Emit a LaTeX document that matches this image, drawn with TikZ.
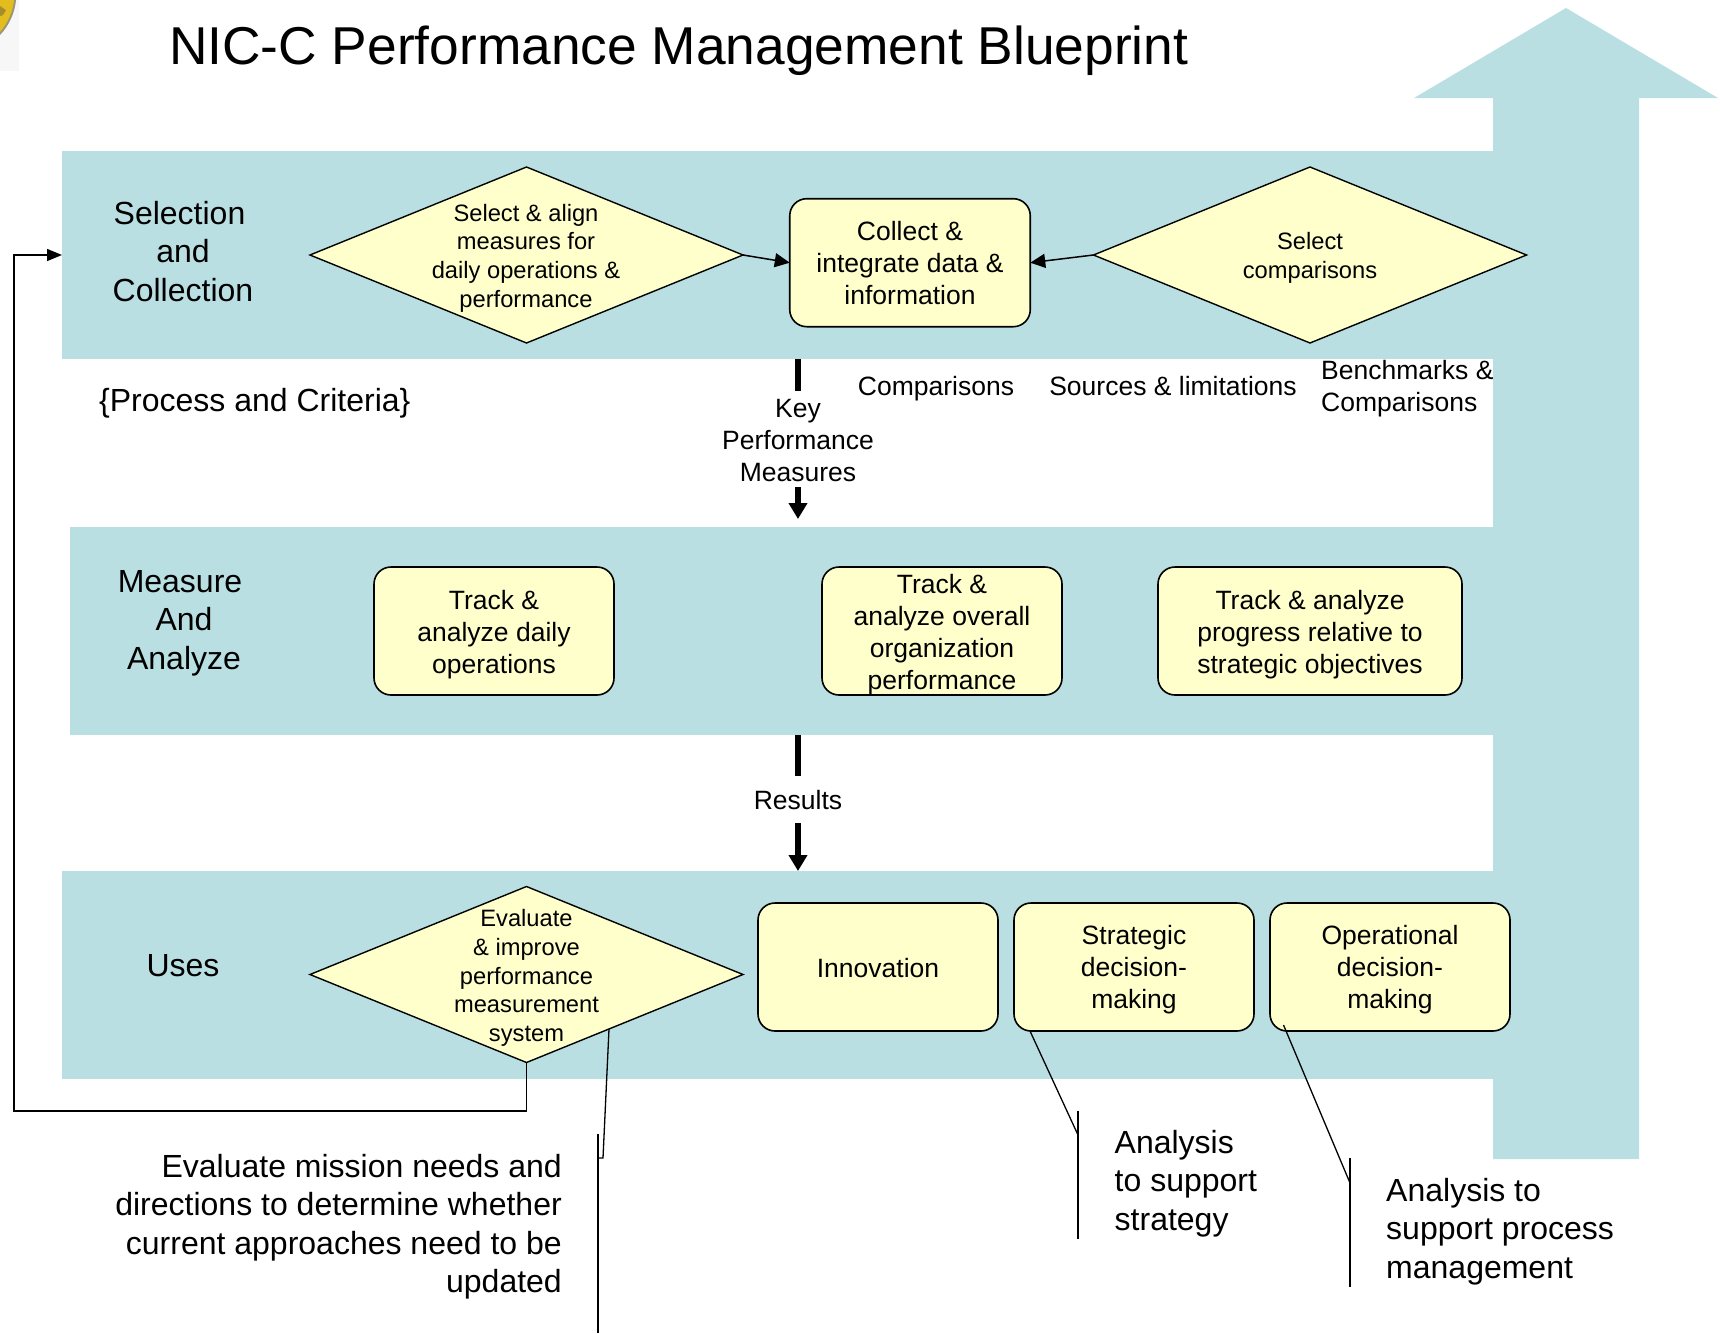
\documentclass[tikz,border=0pt]{standalone}
\usepackage{fontspec}
\setmainfont{Liberation Sans}
\usetikzlibrary{shapes.geometric,arrows.meta}
\definecolor{bandc}{HTML}{B9DFE2}
\definecolor{boxc}{HTML}{FFFFCC}
\definecolor{logoy}{HTML}{E3BC1E}
\definecolor{logog}{HTML}{9A9478}
\definecolor{logod}{HTML}{A68C2E}
\tikzset{
  x=1pt,y=-1pt,
  band/.style={fill=bandc,draw=none,anchor=north west,inner sep=0pt,outer sep=0pt},
  rbox/.style={draw=black,line width=1.6pt,fill=boxc,rounded corners=17pt,inner sep=0pt,outer sep=0pt},
  rtext/.style={inner sep=0pt,align=center,font=\fontsize{26.5}{32}\selectfont},
  diam/.style={draw=black,line width=1.4pt,fill=boxc,diamond,inner sep=0pt,outer sep=0pt,minimum width=433pt,minimum height=176pt},
  dtext/.style={inner sep=0pt,align=center,font=\fontsize{23.7}{28.6}\selectfont},
  lab/.style={inner sep=0pt,align=center,font=\fontsize{26.5}{32}\selectfont},
  head/.style={inner sep=0pt,align=center,font=\fontsize{32}{38.5}\selectfont},
  big/.style={inner sep=0pt,font=\fontsize{32}{38.5}\selectfont},
  thin/.style={draw=black,line width=1.3pt},
  conn/.style={draw=black,line width=1.5pt,-{Triangle[length=15pt,width=14pt]}},
  thick/.style={draw=black,line width=6pt},
  thicka/.style={draw=black,line width=6pt,-{Triangle[length=16pt,width=18pt]}},
}
\begin{document}
\begin{tikzpicture}
\useasboundingbox (0,0) rectangle (1720,1333);
% logo fragment
\fill[black!3] (0,0) rectangle (19,71);
\fill[logog] (16,0) .. controls (15,12) and (9,26) .. (0,35) -- (0,0) -- cycle;
\fill[logoy] (14,0) .. controls (13,11) and (8,23) .. (0,32) -- (0,0) -- cycle;
\fill[logod] (0,6) -- (6,10) -- (3,15) -- (0,16) -- cycle;
% bands
\node[band,minimum width=1431pt,minimum height=208.5pt] (b1) at (62,150.5) {};
\node[band,minimum width=1423pt,minimum height=208pt] (b2) at (70,527) {};
\node[band,minimum width=1431pt,minimum height=208pt] (b3) at (62,871) {};
% large up arrow
\fill[bandc] (1493,1159) -- (1639,1159) -- (1639,98) -- (1718,98) -- (1566,8) -- (1414,98) -- (1493,98) -- cycle;
% title
\node[inner sep=0pt,anchor=west,font=\fontsize{53.3}{60}\selectfont] (title) at (169,50.5) {NIC-C Performance Management Blueprint};
% row labels
\node[head] (l1) at (183,251.5) {Selection\hspace*{7pt}\\and\hspace*{12pt}\\Collection};
\node[head] (l2) at (184,623) {Measure\hspace*{8pt}\\And\hspace*{8pt}\\Analyze};
\node[head] (l3) at (183,966) {Uses};
\node[big,anchor=west] (pc) at (99,403.5) {\{Process and Criteria\}};
% top row
\node[diam] (d1) at (526.5,255) {};
\node[dtext] (d1t) at (526,258) {Select \& align\\measures for\\daily operations \&\\performance};
\node[diam] (d2) at (1310,255) {};
\node[dtext] (d2t) at (1310,258) {Select\\comparisons};
\node[rbox,minimum width=240.5pt,minimum height=128pt] (collect) at (910,262.7) {};
\node[rtext] (collectt) at (910,263.3) {Collect \&\\integrate data \&\\information};
\draw[conn] (d1.east) -- (collect.west);
\draw[conn] (d2.west) -- (collect.east);
% labels between
\node[lab] (c1) at (936,388.3) {Comparisons};
\node[lab] (c2) at (1173,386) {Sources \& limitations};
\node[lab,align=left,anchor=west] (c3) at (1321,389) {Benchmarks \&\\Comparisons};
\node[lab] (kpm) at (798,441) {Key\\Performance\\Measures};
\coordinate (k1) at (798,390.5);
\coordinate (k2) at (798,487);
\coordinate (k3) at (798,519);
\coordinate (k0) at (798,359);
\draw[thick] (k0) -- (k1);
\draw[thicka] (k2) -- (k3);
% middle row
\node[rbox,minimum width=240pt,minimum height=128pt] (t1) at (494,631) {};
\node[rtext] (t1t) at (494,635) {Track \&\\analyze daily\\operations};
\node[rbox,minimum width=240pt,minimum height=128pt] (t2) at (942,631) {};
\node[rtext] (t2t) at (942,635) {Track \&\\analyze overall\\organization\\performance};
\node[rbox,minimum width=304pt,minimum height=128pt] (t3) at (1310,631) {};
\node[rtext] (t3t) at (1310,635) {Track \& analyze\\progress relative to\\strategic objectives};
% results
\node[lab] (res) at (798,800) {Results};
\coordinate (r0) at (798,735);
\coordinate (r1) at (798,776);
\coordinate (r2) at (798,823);
\coordinate (r3) at (798,871);
\draw[thick] (r0) -- (r1);
\draw[thicka] (r2) -- (r3);
% bottom row
\node[diam] (d3) at (526.5,974.5) {};
\node[dtext] (d3t) at (526.5,978) {Evaluate\\\& improve\\performance\\measurement\\system};
\node[rbox,minimum width=240pt,minimum height=128pt] (i1) at (878,967) {};
\node[rtext] (i1t) at (878,968) {Innovation};
\node[rbox,minimum width=240pt,minimum height=128pt] (i2) at (1134,967) {};
\node[rtext] (i2t) at (1134,969.5) {Strategic\\decision-\\making};
\node[rbox,minimum width=240pt,minimum height=128pt] (i3) at (1390,967) {};
\node[rtext] (i3t) at (1390,969.5) {Operational\\decision-\\making};
% feedback
\coordinate (f1) at (526.5,1111);
\coordinate (f2) at (14,1111);
\coordinate (f3) at (14,255);
\coordinate (f4) at (62,255);
\draw[draw=black,line width=1.5pt,-{Triangle[length=15pt,width=12pt]}] (d3.south) -- (f1) -- (f2) -- (f3) -- (f4);
% callouts
\coordinate (e0) at (609,1029);
\coordinate (e1) at (603,1158);
\coordinate (e2) at (598,1158);
\coordinate (e3) at (598,1134);
\coordinate (e4) at (598,1333);
\draw[thin] (e0) -- (e1) -- (e2);
\draw[thin] (e3) -- (e4);
\node[big,align=right,anchor=east] (n1) at (562,1226.7) {Evaluate mission needs and\\directions to determine whether\\current approaches need to be\\updated};
\coordinate (s0) at (1030,1031);
\coordinate (s1) at (1078,1135);
\coordinate (s2) at (1078,1110.7);
\coordinate (s3) at (1078,1239);
\draw[thin] (s0) -- (s1);
\draw[thin] (s2) -- (s3);
\node[big,align=left,anchor=west] (n2) at (1114.5,1183.5) {Analysis\\to support\\strategy};
\coordinate (o0) at (1283.5,1025);
\coordinate (o1) at (1350,1183);
\coordinate (o2) at (1350,1158);
\coordinate (o3) at (1350,1287);
\draw[thin] (o0) -- (o1);
\draw[thin] (o2) -- (o3);
\node[big,align=left,anchor=west] (n3) at (1386,1231.5) {Analysis to\\support process\\management};
\end{tikzpicture}
\end{document}
